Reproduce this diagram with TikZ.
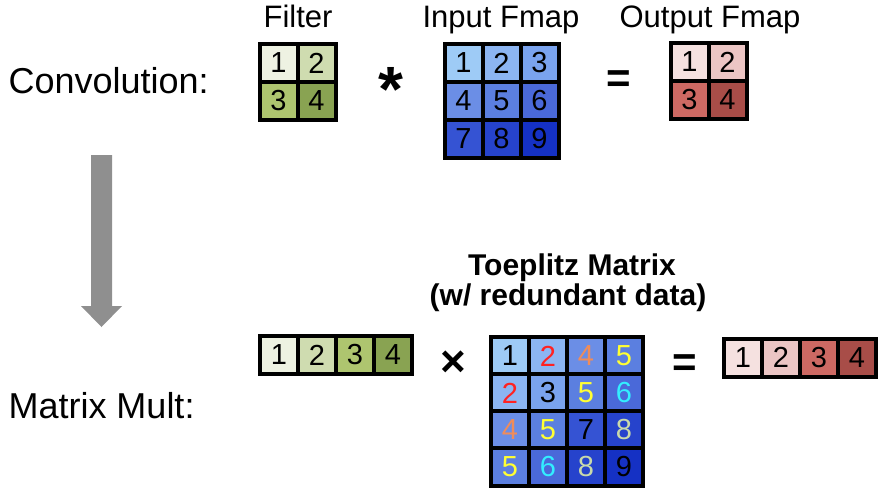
\documentclass[tikz,border=0pt]{standalone}
\usepackage{fontspec}
\setmainfont{Liberation Sans}
\usepackage{xcolor}

\definecolor{g1}{HTML}{EEF2E2}
\definecolor{g2}{HTML}{CFDCB0}
\definecolor{g3}{HTML}{AEC56F}
\definecolor{g4}{HTML}{89A352}
\definecolor{b1}{HTML}{9ECBF6}
\definecolor{b2}{HTML}{8CB5F2}
\definecolor{b3}{HTML}{7AA3EE}
\definecolor{b4}{HTML}{6B8EE6}
\definecolor{b5}{HTML}{5B7FE0}
\definecolor{b6}{HTML}{4A69D9}
\definecolor{b7}{HTML}{3553D3}
\definecolor{b8}{HTML}{2643CC}
\definecolor{b9}{HTML}{1531C4}
\definecolor{r1}{HTML}{F5E1E0}
\definecolor{r2}{HTML}{EBC5C4}
\definecolor{r3}{HTML}{CD6963}
\definecolor{r4}{HTML}{A84D48}
\definecolor{tred}{HTML}{FF2222}
\definecolor{torange}{HTML}{F08C5A}
\definecolor{tyellow}{HTML}{FFFF33}
\definecolor{tcyan}{HTML}{33EEFF}
\definecolor{tpale}{HTML}{C9D9AA}
\definecolor{arrowgray}{HTML}{8F8F8F}

\begin{document}
\begin{tikzpicture}[x=1pt, y=-1pt,
    cell/.style={draw=black, line width=4pt, minimum size=38pt, inner sep=0pt, font=\fontsize{29}{29}\selectfont},
    lbl/.style={anchor=base, font=\fontsize{31}{31}\selectfont},
    side/.style={anchor=base west, font=\fontsize{36}{36}\selectfont},
    title/.style={anchor=base, font=\bfseries\fontsize{30}{30}\selectfont},
    op/.style={anchor=base, font=\bfseries\fontsize{42}{42}\selectfont}]
    \useasboundingbox (0, 0) rectangle (881, 493);

    % labels
    \node[side](conv) at (5, 93) {Convolution:};
    \node[side](mult) at (5, 418) {Matrix Mult:};
    \node[lbl](filt) at (298, 27) {Filter};
    \node[lbl](inp) at (501, 27) {Input Fmap};
    \node[lbl](outp) at (710, 27) {Output Fmap};
    \node[title](tt1) at (572, 275) {Toeplitz Matrix};
    \node[title](tt2) at (568, 305) {(w/ redundant data)};

    % convolution
    \node[cell, fill=g1](f1) at (278.5, 63) {1};
    \node[cell, fill=g2](f2) at (316.5, 63) {2};
    \node[cell, fill=g3](f3) at (278.5, 101) {3};
    \node[cell, fill=g4](f4) at (316.5, 101) {4};

    \node[op, font=\bfseries\fontsize{64}{64}\selectfont](star) at (391, 111) {*};

    \node[cell, fill=b1](i1) at (463.5, 63) {1};
    \node[cell, fill=b2](i2) at (501.5, 63) {2};
    \node[cell, fill=b3](i3) at (539.5, 63) {3};
    \node[cell, fill=b4](i4) at (463.5, 101) {4};
    \node[cell, fill=b5](i5) at (501.5, 101) {5};
    \node[cell, fill=b6](i6) at (539.5, 101) {6};
    \node[cell, fill=b7](i7) at (463.5, 139) {7};
    \node[cell, fill=b8](i8) at (501.5, 139) {8};
    \node[cell, fill=b9](i9) at (539.5, 139) {9};

    \node[op](eq1) at (618.5, 92) {=};

    \node[cell, fill=r1](o1) at (689.5, 62) {1};
    \node[cell, fill=r2](o2) at (727.5, 62) {2};
    \node[cell, fill=r3](o3) at (689.5, 100) {3};
    \node[cell, fill=r4](o4) at (727.5, 100) {4};

    % arrow
    \fill[arrowgray] (91, 155) -- (112, 155) -- (112, 306) -- (122, 306)
        -- (101.5, 327) -- (81, 306) -- (91, 306) -- cycle;

    % matrix mult
    \node[cell, fill=g1](rf1) at (279, 355) {1};
    \node[cell, fill=g2](rf2) at (317, 355) {2};
    \node[cell, fill=g3](rf3) at (355, 355) {3};
    \node[cell, fill=g4](rf4) at (393, 355) {4};

    \node[op, font=\bfseries\fontsize{44}{44}\selectfont](times) at (453, 376) {×};

    \node[cell, fill=b1](t11) at (510, 356) {1};
    \node[cell, fill=b2, text=tred](t12) at (548, 356) {2};
    \node[cell, fill=b4, text=torange](t13) at (586, 356) {4};
    \node[cell, fill=b5, text=tyellow](t14) at (624, 356) {5};
    \node[cell, fill=b2, text=tred](t21) at (510, 393) {2};
    \node[cell, fill=b3](t22) at (548, 393) {3};
    \node[cell, fill=b5, text=tyellow](t23) at (586, 393) {5};
    \node[cell, fill=b6, text=tcyan](t24) at (624, 393) {6};
    \node[cell, fill=b4, text=torange](t31) at (510, 430) {4};
    \node[cell, fill=b5, text=tyellow](t32) at (548, 430) {5};
    \node[cell, fill=b7](t33) at (586, 430) {7};
    \node[cell, fill=b8, text=tpale](t34) at (624, 430) {8};
    \node[cell, fill=b5, text=tyellow](t41) at (510, 467) {5};
    \node[cell, fill=b6, text=tcyan](t42) at (548, 467) {6};
    \node[cell, fill=b8, text=tpale](t43) at (586, 467) {8};
    \node[cell, fill=b9](t44) at (624, 467) {9};

    \node[op](eq2) at (685, 376) {=};

    \node[cell, fill=r1](ro1) at (743, 357.5) {1};
    \node[cell, fill=r2](ro2) at (781, 357.5) {2};
    \node[cell, fill=r3](ro3) at (819, 357.5) {3};
    \node[cell, fill=r4](ro4) at (857, 357.5) {4};
  \end{tikzpicture}
\end{document}
